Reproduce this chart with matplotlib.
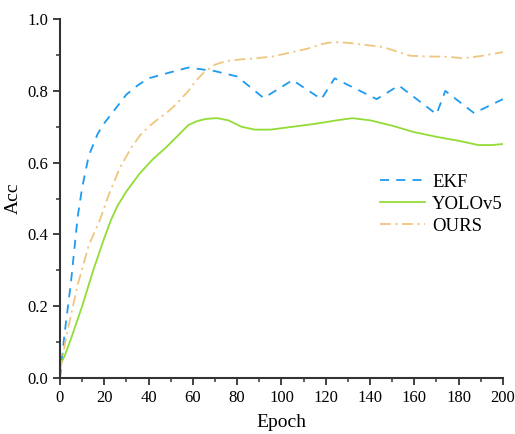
import matplotlib
matplotlib.use("Agg")
import matplotlib.pyplot as plt
from matplotlib.ticker import MultipleLocator

plt.rcParams['font.family'] = ['Liberation Serif', 'DejaVu Serif']

ekf_x = [0, 2, 5, 8, 10, 13, 17, 20, 25, 30, 35, 40, 50, 58, 70, 80, 92, 105, 118, 124, 143, 153, 170, 174, 187, 200]
ekf_y = [0.0, 0.12, 0.27, 0.45, 0.53, 0.62, 0.68, 0.71, 0.75, 0.79, 0.815, 0.835, 0.852, 0.865, 0.855, 0.84, 0.78, 0.83, 0.777, 0.835, 0.777, 0.815, 0.735, 0.80, 0.738, 0.777]

yolo_x = [0, 2, 5, 10, 15, 20, 23, 26, 30, 36, 42, 48, 54, 58, 62, 66, 71, 76, 82, 88, 95, 105, 115, 125, 132, 140, 150, 160, 170, 180, 189, 195, 200]
yolo_y = [0.035, 0.06, 0.11, 0.20, 0.30, 0.39, 0.44, 0.48, 0.52, 0.57, 0.61, 0.643, 0.68, 0.705, 0.716, 0.722, 0.724, 0.718, 0.70, 0.692, 0.692, 0.70, 0.708, 0.718, 0.724, 0.718, 0.703, 0.685, 0.672, 0.661, 0.649, 0.649, 0.652]

ours_x = [0, 3, 8, 13, 18, 22, 27, 32, 36, 40, 44, 48, 52, 55, 58, 61, 65, 70, 75, 82, 89, 96, 105, 112, 118, 123, 130, 138, 146, 152, 158, 165, 175, 182, 190, 200]
ours_y = [0.02, 0.12, 0.26, 0.37, 0.44, 0.51, 0.585, 0.64, 0.675, 0.70, 0.72, 0.738, 0.76, 0.78, 0.80, 0.825, 0.852, 0.873, 0.883, 0.888, 0.891, 0.896, 0.908, 0.918, 0.93, 0.936, 0.934, 0.928, 0.922, 0.91, 0.898, 0.896, 0.895, 0.891, 0.897, 0.908]

fig = plt.figure(figsize=(5.15, 4.34), dpi=100)
ax = fig.add_axes([0.1165, 0.129, 0.86, 0.827])

ax.plot(ekf_x, ekf_y, color='#1d9bf0', lw=1.3, dashes=(5, 4), label='EKF')
ax.plot(yolo_x, yolo_y, color='#92dc36', lw=1.3, label='YOLOv5')
ax.plot(ours_x, ours_y, color='#f0c57e', lw=1.3, dashes=(6, 2.5, 1.2, 2.5), label='OURS')

ax.set_xlim(0, 200)
ax.set_ylim(0, 1.0)
ax.xaxis.set_major_locator(MultipleLocator(20))
ax.xaxis.set_minor_locator(MultipleLocator(10))
ax.yaxis.set_major_locator(MultipleLocator(0.2))
ax.yaxis.set_minor_locator(MultipleLocator(0.1))
ax.yaxis.set_major_formatter(matplotlib.ticker.FormatStrFormatter('%.1f'))

for s in ['top', 'right']:
    ax.spines[s].set_visible(False)
for s in ['left', 'bottom']:
    ax.spines[s].set_linewidth(1.5)
    ax.spines[s].set_color('#333333')
ax.tick_params(which='major', direction='out', length=5, width=1.3, color='#333333', labelsize=12)
ax.tick_params(which='minor', direction='out', length=3, width=1.1, color='#333333')

ax.set_xlabel('Epoch', fontsize=14, labelpad=6)
ax.set_ylabel('Acc', fontsize=14)

ax.legend(loc='upper left', bbox_to_anchor=(0.705, 0.59), frameon=False, fontsize=13.5,
          handlelength=2.4, handletextpad=0.4, labelspacing=0.25, borderaxespad=0)

fig.savefig('out.png', dpi=100)
